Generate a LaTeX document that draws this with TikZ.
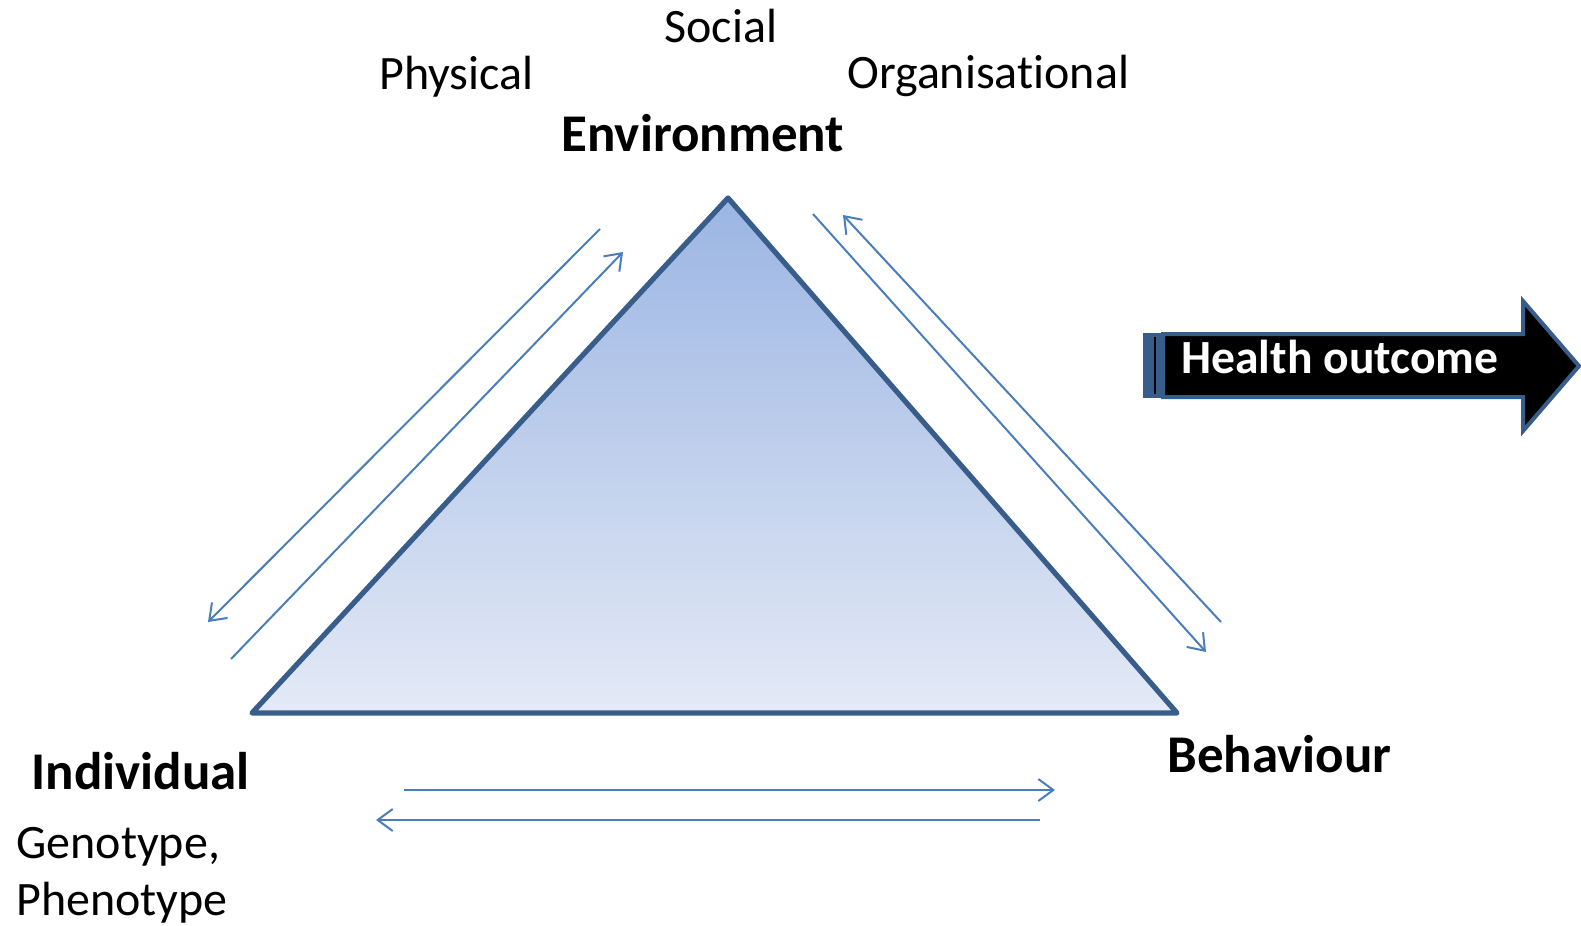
\documentclass[tikz,border=0pt]{standalone}
\usepackage{fontspec}
\setmainfont{Carlito}[Ligatures=NoCommon, Contextuals=NoAlternate]
\usetikzlibrary{arrows.meta}
\definecolor{edgeblue}{RGB}{56,93,138}
\definecolor{linkblue}{RGB}{74,126,187}
\definecolor{shadetop}{RGB}{155,181,227}
\definecolor{shadebot}{RGB}{228,234,246}
\tikzset{
  link/.style={draw=linkblue, line width=1pt, -{Straight Barb[length=7.5pt,width=11pt]}},
  factor/.style={anchor=base west, inner sep=0pt, font=\fontsize{24}{29}\selectfont},
  corner/.style={anchor=base west, inner sep=0pt, font=\fontsize{26.5}{32}\selectfont\bfseries},
  outcome/.style={fill=black, draw=edgeblue, line width=2pt, line join=miter},
}
\begin{document}
\begin{tikzpicture}[x=0.5pt,y=-0.5pt]
    \useasboundingbox (0,0) rectangle (1581,926);
    \coordinate (env) at (728,198);
    \coordinate (ind) at (252,713);
    \coordinate (beh) at (1177,713);
    \shade[top color=shadetop, bottom color=shadebot] (env) -- (beh) -- (ind) -- cycle;
    \draw[edgeblue, line width=2.6pt, line join=round] (env) -- (beh) -- (ind) -- cycle;

    \node[factor] (social) at (664,42) {Social};
    \node[factor] (physical) at (379,89) {Physical};
    \node[factor] (organisational) at (847,88) {Organisational};
    \node[corner] (environment) at (561,151) {Environment};
    \node[corner] (behaviour) at (1167,772) {Behaviour};
    \node[corner] (individual) at (31,789) {Individual};
    \node[factor] (genotype) at (16,858) {Genotype,};
    \node[factor] (phenotype) at (16,915) {Phenotype};

    \coordinate (ie0) at (600,229);
    \coordinate (ie1) at (208,622);
    \coordinate (ei0) at (231,659);
    \coordinate (ei1) at (623,252);
    \coordinate (eb0) at (813,214);
    \coordinate (eb1) at (1206,652);
    \coordinate (be0) at (1221,622);
    \coordinate (be1) at (843,215);
    \coordinate (ib0) at (404,790);
    \coordinate (ib1) at (1055,790);
    \coordinate (bi0) at (1040,820);
    \coordinate (bi1) at (376,820);
    \draw[link] (ie0) -- (ie1);
    \draw[link] (ei0) -- (ei1);
    \draw[link] (eb0) -- (eb1);
    \draw[link] (be0) -- (be1);
    \draw[link] (ib0) -- (ib1);
    \draw[link] (bi0) -- (bi1);

    \draw[outcome] (1163,334) -- (1523,334) -- (1523,301) -- (1579,366)
        -- (1523,431) -- (1523,397) -- (1163,397) -- cycle;
    \fill[edgeblue] (1143,333) rectangle (1163,398);
    \draw[black, line width=0.8pt] (1155,337) -- (1155,394);
    \node[anchor=base west, inner sep=0pt, text=white,
        font=\fontsize{23.8}{28}\selectfont\bfseries] (health) at (1181,373) {Health outcome};
\end{tikzpicture}
\end{document}
